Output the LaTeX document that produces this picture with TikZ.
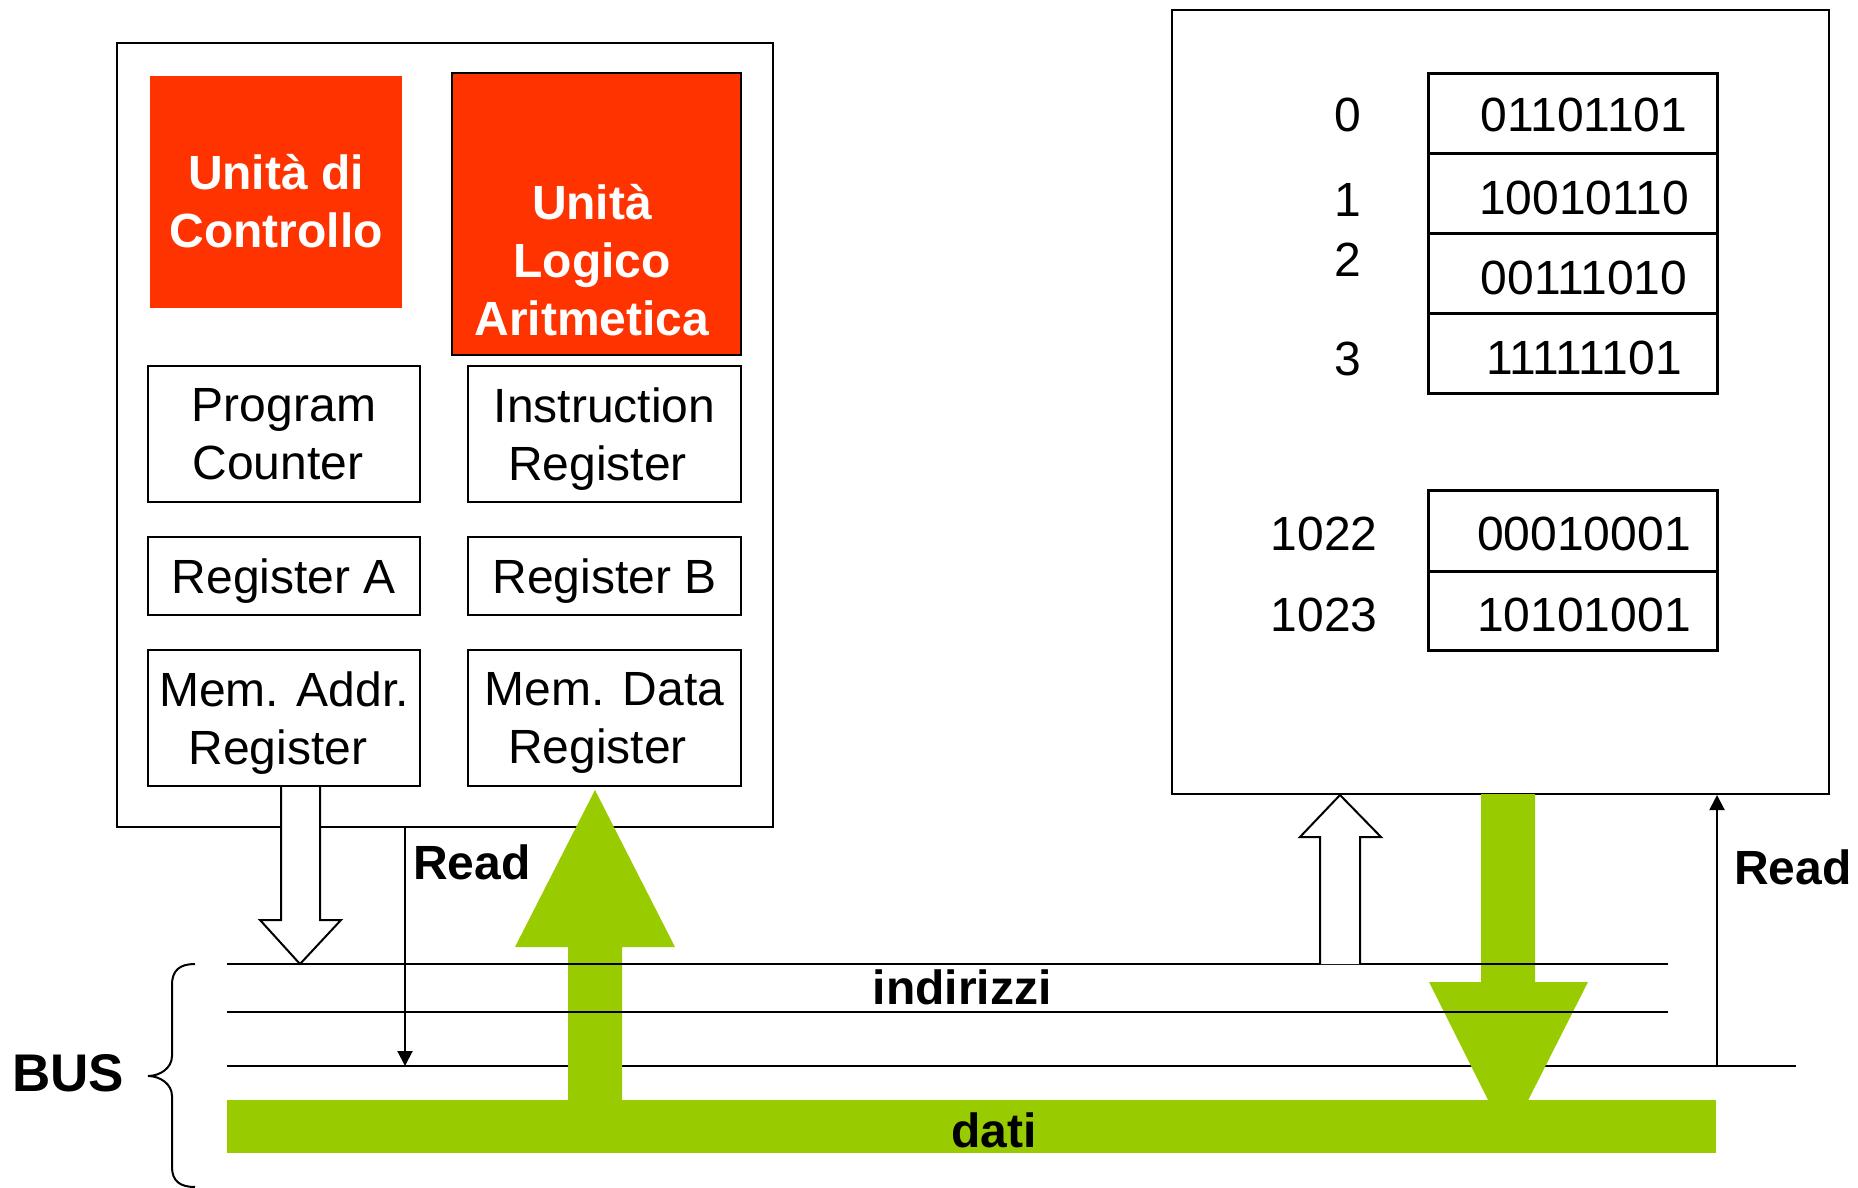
\documentclass[tikz,border=0pt]{standalone}
\usepackage{fontspec}
\setmainfont{Liberation Sans}
\usetikzlibrary{arrows.meta,calc}
\definecolor{alured}{HTML}{FF3300}
\definecolor{busgreen}{HTML}{99CC00}
\begin{document}
\begin{tikzpicture}[x=1pt,y=-1pt,
  txt/.style={font=\fontsize{48}{58}\selectfont, align=center, inner sep=0pt},
  btxt/.style={font=\fontsize{48}{58}\selectfont\bfseries, align=center, inner sep=0pt},
  wtxt/.style={btxt, text=white},
  regbox/.style={draw=black, line width=2.5pt, inner sep=0pt, txt, text depth=0pt},
  redbox/.style={fill=alured, inner sep=0pt},
  bigbox/.style={draw=black, line width=2.5pt, inner sep=0pt},
  cell/.style={draw=black, line width=3pt, inner sep=0pt, minimum width=289pt},
  busline/.style={line width=2.5pt},
  openarrow/.style={draw=black, line width=2pt, fill=white, line join=miter},
  readline/.style={line width=2pt, -{Triangle[length=15pt,width=15pt]}}
]
\useasboundingbox (0,0) rectangle (1858,1188);

% CPU
\node[bigbox, minimum width=656pt, minimum height=784pt] (cpu) at (445,435) {};
\node[redbox, minimum width=252pt, minimum height=232pt] (cu) at (276,192) {};
\node[wtxt] (cut) at (276,201) {Unità di\\Controllo};
\node[redbox, draw=black, line width=2.5pt, minimum width=289pt, minimum height=282pt] (alu) at (596.5,214) {};
\node[wtxt] (alut) at (592,260) {Unità\\Logico\\Aritmetica};
\node[regbox, minimum width=272pt, minimum height=136pt] (pc) at (284,434) {Program\\Counter\hspace*{12pt}};
\node[regbox, minimum width=273pt, minimum height=136pt] (ir) at (604.5,434) {Instruction\\Register\hspace*{14pt}};
\node[regbox, minimum width=272pt, minimum height=78pt] (ra) at (284,576) {Register A};
\node[regbox, minimum width=273pt, minimum height=78pt] (rb) at (604.5,576) {Register B};
\node[regbox, minimum width=272pt, minimum height=136pt] (mar) at (284,718) {Mem. Addr.\\Register\hspace*{12pt}};
\node[regbox, minimum width=273pt, minimum height=136pt] (mdr) at (604.5,718) {Mem. Data\\Register\hspace*{14pt}};

% Memory
\node[bigbox, minimum width=657pt, minimum height=784pt] (mem) at (1500.5,402) {};
\node[cell, minimum height=80pt] (c0) at (1572.5,114) {};
\node[cell, minimum height=79pt] (c1) at (1572.5,193.5) {};
\node[cell, minimum height=80pt] (c2) at (1572.5,273) {};
\node[cell, minimum height=80pt] (c3) at (1572.5,353) {};
\node[cell, minimum height=81pt] (c1022) at (1572.5,530.5) {};
\node[cell, minimum height=79pt] (c1023) at (1572.5,610.5) {};
\node[txt] (v0) at (1584,115) {01101101};
\node[txt] (v1) at (1584,198) {10010110};
\node[txt] (v2) at (1584,278) {00111010};
\node[txt] (v3) at (1584,358) {11111101};
\node[txt] (v1022) at (1584,534) {00010001};
\node[txt] (v1023) at (1584,615) {10101001};
\node[txt] (a0) at (1348,115) {0};
\node[txt] (a1) at (1348,200) {1};
\node[txt] (a2) at (1348,260) {2};
\node[txt] (a3) at (1348,359) {3};
\node[txt] (a1022) at (1324,534) {1022};
\node[txt] (a1023) at (1324,615) {1023};

% Bus
\coordinate (l1s) at (227,964);  \coordinate (l1e) at (1668,964);
\coordinate (l2s) at (227,1012); \coordinate (l2e) at (1668,1012);
\coordinate (l3s) at (227,1066); \coordinate (l3e) at (1796,1066);
\draw[busline] (l3s) -- (l3e);
\node[fill=busgreen, inner sep=0pt, minimum width=1489pt, minimum height=53pt] (dbar) at (971.5,1126.5) {};

% green arrows
\fill[busgreen] (568,1101) -- (568,947) -- (515,947) -- (595,790) -- (675,947) -- (622,947) -- (622,1101) -- cycle;
\fill[busgreen] (1481,794) -- (1481,982) -- (1429,982) -- (1508,1140) -- (1588,982) -- (1535,982) -- (1535,794) -- cycle;

\draw[busline] (l1s) -- (l1e);
\draw[busline] (l2s) -- (l2e);

% open arrows
\draw[openarrow] (281,787) -- (281,920) -- (260,920) -- (300,964) -- (341,920) -- (320,920) -- (320,787);
\draw[openarrow] (1320,964) -- (1320,837) -- (1300,837) -- (1340,795) -- (1381,837) -- (1360,837) -- (1360,964);

% read lines
\coordinate (rdA) at (405,828);
\coordinate (rdAe) at (405,1066);
\coordinate (rdB) at (1717,1066);
\coordinate (rdBe) at (1717,795);
\draw[readline] (rdA) -- (rdAe);
\draw[readline] (rdB) -- (rdBe);

% labels
\node[btxt] (readA) at (472,862) {Read};
\node[btxt] (readB) at (1793,867) {Read};
\node[btxt] (ind) at (962,987) {indirizzi};
\node[btxt] (dati) at (994,1130) {dati};
\node[font=\fontsize{53}{60}\selectfont\bfseries, inner sep=0pt] (bus) at (68,1073) {BUS};

% brace
\draw[line width=2pt] (195,964) .. controls (180,964) and (172,970) .. (172,985) -- (172,1056) .. controls (172,1068) and (160,1076) .. (148,1076) .. controls (160,1076) and (172,1084) .. (172,1096) -- (172,1167) .. controls (172,1181) and (180,1187) .. (195,1187);
\end{tikzpicture}
\end{document}
